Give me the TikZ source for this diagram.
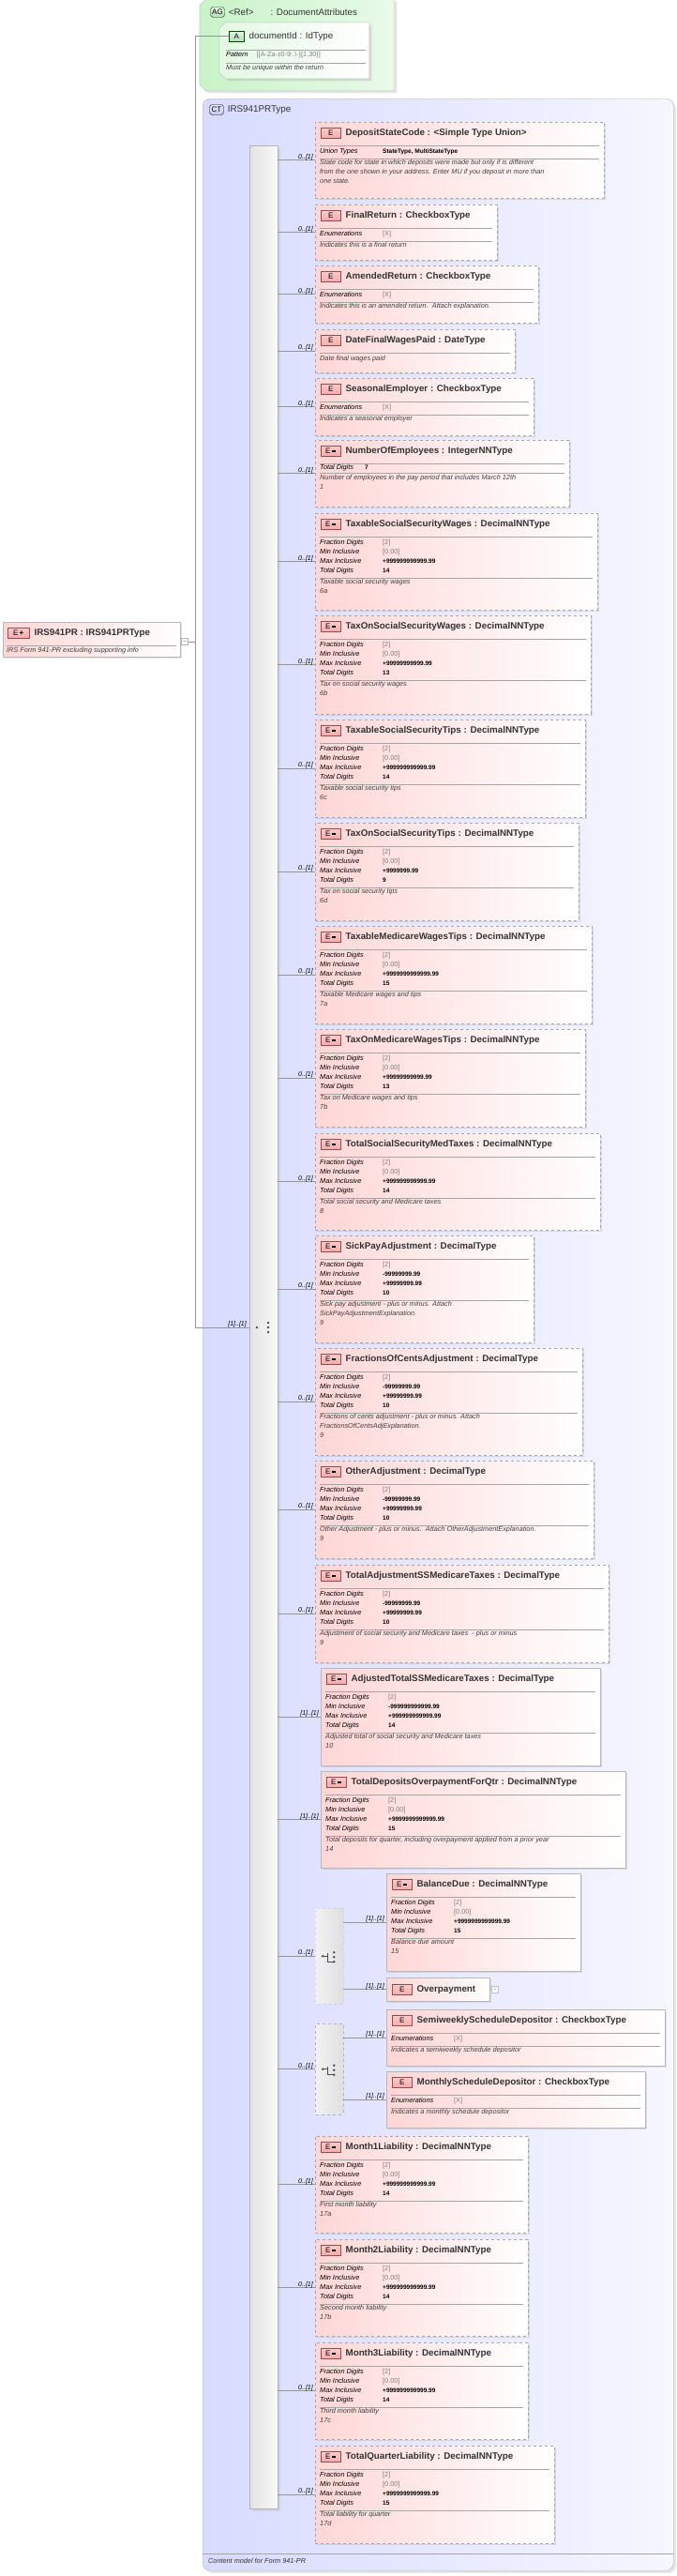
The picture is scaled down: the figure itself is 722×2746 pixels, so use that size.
\documentclass[tikz,border=0pt]{standalone}
\usepackage{fontspec}
\setmainfont{Liberation Sans}
\usepackage{array}
\usepackage{tikz}
\usetikzlibrary{shapes,shapes.misc,shadows,calc}

\definecolor{elpink}{RGB}{255,214,214}
\definecolor{ctblue}{RGB}{216,219,255}
\definecolor{ctwhite}{RGB}{246,246,255}
\definecolor{aggreen}{RGB}{200,243,200}
\definecolor{badgered}{RGB}{245,170,170}
\definecolor{lnk}{RGB}{150,150,150}

% facet values
\newcommand{\gv}[1]{{\color{gray}#1}}
\newcommand{\bv}[1]{{\bfseries\fontsize{6.5}{10}\selectfont #1}}
\newcommand{\curpar}{seqbar}

% element box: [style]{name}{x1}{y1}{x2}{y2}{badge}{title}{cardinality}
\newcommand{\elem}[9][opt]{%
  \node[#1, minimum width={#5pt-#3pt}, minimum height={#6pt-#4pt}, anchor=north west] (#2) at (#3pt,-#4pt) {};
  \node[badge, anchor=north west] (#2b) at ([xshift=6pt,yshift=-6pt]#2.north west) {#7};
  \node[title, anchor=west] (#2t) at ([xshift=5pt]#2b.east) {#8};
  \node[hdr, anchor=north west] (#2h) at ([xshift=5pt,yshift=-25pt]#2.north west) {};
  \draw[sep] (#2h.south west) -- ([xshift=-5pt]#2h.south -| #2.east);
  \draw[conn] (#2.west) -- (#2.west -| \curpar.east);
  \node[card, anchor=south east] (#2c) at ([xshift=-1pt,yshift=-1pt]#2.west) {#9};
}
\newcommand{\facets}[2]{%
  \node[facet, anchor=north west] (#1f) at ([yshift=-1pt]#1h.south west)
    {\begin{tabular}{@{}>{\itshape}p{67pt}@{}l@{}}#2\end{tabular}};
}
\newcommand{\docs}[4][sep]{%
  \draw[#1] ([yshift=-2pt]#3.south west) -- ([yshift=-2pt,xshift=-5pt]#3.south -| #2.east);
  \node[doc, anchor=north west] (#2d) at ([yshift=-3pt]#3.south west) {#4};
}
\newcommand{\seqicon}[1]{%
  \fill[black!70] ([xshift=-7pt]#1) circle (1.4pt);
  \draw[black!70, line width=0.6pt] ([xshift=-7pt]#1) -- ([xshift=-1pt]#1)
    ([xshift=-1pt,yshift=-5pt]#1) -- ([xshift=-1pt,yshift=5pt]#1)
    ([xshift=-1pt,yshift=-5pt]#1) -- ([xshift=5pt,yshift=-5pt]#1)
    ([xshift=-1pt,yshift=5pt]#1) -- ([xshift=5pt,yshift=5pt]#1);
  \foreach \d in {-5,0,5} \fill[black!70] ([xshift=5pt,yshift=\d pt]#1) circle (1.4pt);
}
\newcommand{\choiceicon}[1]{%
  \fill[black!70] ([xshift=-7pt]#1) circle (1.4pt);
  \draw[black!70, line width=0.6pt] ([xshift=-7pt]#1) -- ([xshift=-2pt]#1)
    ([xshift=-2pt,yshift=3pt]#1) -- ([xshift=-2pt,yshift=-6pt]#1) -- ([xshift=5pt,yshift=-6pt]#1);
  \foreach \d in {-6,-1,4} \fill[black!70] ([xshift=5pt,yshift=\d pt]#1) circle (1.4pt);
}

\begin{document}
\begin{tikzpicture}[x=1pt,y=1pt]
\tikzstyle{opt}=[rectangle, draw=gray!70, dashed, left color=elpink, right color=white, drop shadow={opacity=0.2,shadow xshift=1.5pt,shadow yshift=-1.5pt}]
\tikzstyle{req}=[opt, solid, draw=gray!55]
\tikzstyle{badge}=[rectangle, draw=red!40!black!70, top color=badgered!60, bottom color=badgered, inner sep=1pt, minimum height=11pt, minimum width=21pt, font=\fontsize{8}{9}\selectfont]
\tikzstyle{title}=[inner sep=0pt, font=\bfseries\fontsize{9.8}{11}\selectfont, text=black!80]
\tikzstyle{hdr}=[inner sep=0pt, minimum size=0pt]
\tikzstyle{sep}=[draw=gray!70, line width=0.5pt]
\tikzstyle{conn}=[draw=lnk, line width=0.5pt]
\tikzstyle{card}=[inner sep=1pt, font=\itshape\fontsize{7}{8}\selectfont]
\tikzstyle{facet}=[inner sep=0pt, font=\fontsize{7.3}{10}\selectfont]
\tikzstyle{doc}=[inner sep=0pt, align=left, font=\itshape\fontsize{7.3}{10}\selectfont, text=black!75]
\tikzstyle{group}=[rectangle, draw=gray!60, dashed, rounded corners=1pt, left color=gray!10, right color=gray!25]
\useasboundingbox (0,0) rectangle (722,-2746);

% attribute group
\node[chamfered rectangle, chamfered rectangle corners={north west,south west}, chamfered rectangle xsep=6pt, draw=gray!50, left color=aggreen, right color=aggreen!40, minimum width=208pt, minimum height=98pt, anchor=north west, drop shadow={opacity=0.2}] (ag) at (216,-2) {};
\node[badge, rounded corners=3pt, draw=green!30!black, top color=aggreen!50, bottom color=aggreen!90!black, minimum width=15pt] (agb) at (232,-13) {AG};
\node[title, font=\fontsize{9.8}{11}\selectfont, anchor=west] (agt) at ([xshift=4pt]agb.east) {<Ref>\hspace{18pt}: DocumentAttributes};
\node[chamfered rectangle, chamfered rectangle corners={north west,south west}, chamfered rectangle xsep=4pt, draw=gray!50, left color=aggreen!50, right color=white, minimum width=160pt, minimum height=60pt, anchor=north west, drop shadow={opacity=0.2}] (did) at (237,-27) {};
\node[badge, draw=green!30!black, top color=aggreen!50, bottom color=aggreen!90!black, minimum width=16pt, anchor=north west] (didb) at (244,-33) {A};
\node[title, font=\fontsize{9.8}{11}\selectfont, anchor=west] (didt) at ([xshift=5pt]didb.east) {documentId : IdType};
\draw[sep] (241,-53) -- (390,-53);
\node[facet, anchor=north west] (didf) at (241,-55) {\textit{Pattern}\hspace{9pt}\gv{[[A-Za-z0-9:.\textbackslash-]\{1,30\}]}};
\draw[sep] (241,-67) -- (390,-67);
\node[doc, anchor=north west] (didd) at (241,-69) {Must be unique within the return};

% complex type
\node[rectangle, rounded corners=8pt, draw=gray!60, left color=ctblue, right color=ctwhite, minimum width=502pt, minimum height=2635pt, anchor=north west, drop shadow={opacity=0.2}] (ct) at (216,-105) {};
\node[badge, rounded corners=3pt, draw=blue!30!black, top color=ctblue!60, bottom color=ctblue!90!black, minimum width=15pt] (ctb) at (231,-117) {CT};
\node[title, font=\fontsize{9.8}{11}\selectfont, anchor=west] (ctt) at ([xshift=4pt]ctb.east) {IRS941PRType};
\draw[sep] (216,-2722) -- (718,-2722);
\node[doc, anchor=west, text=black!80] (ctd) at (222,-2730) {Content model for Form 941-PR};

% root element
\node[req, minimum width=189pt, minimum height=37pt, anchor=north west] (root) at (3,-663) {};
\node[badge, anchor=north west, minimum width=23pt] (rootb) at (8,-669) {E\,\textbf{+}};
\node[title, anchor=west] (roott) at ([xshift=5pt]rootb.east) {IRS941PR : IRS941PRType};
\draw[sep] (7,-688) -- (188,-688);
\node[doc, anchor=north west] (rootd) at (7,-690) {IRS Form 941-PR excluding supporting info};
\node[draw=gray!60, fill=white, minimum size=7pt, inner sep=0pt, font=\tiny] (rootx) at (197,-684) {$-$};
\coordinate (spine) at (208,-684);
\node[inner sep=0pt, minimum size=0pt] (seqic) at (281,-1415) {};
\draw[conn] (rootx) -- (spine) |- (didb.west);
\draw[conn] (spine) |- (seqic);
\node[card, anchor=south east] (seqc) at (264,-1416) {[1]..[1]};

% sequence
\node[rectangle, draw=gray!60, left color=gray!22, right color=gray!4, minimum width=30pt, minimum height=2519pt, anchor=north west, drop shadow={opacity=0.15}] (seqbar) at (266,-155) {};
\seqicon{seqic}

\elem{dsc}{336}{130}{644}{211}{E}{DepositStateCode : <Simple Type Union>}{0..[1]}
\facets{dsc}{Union Types & \bv{StateType, MultiStateType}}
\docs{dsc}{dscf}{State code for state in which deposits were made but only if is different\\from the one shown in your address. Enter MU if you deposit in more than\\one state.}
\elem{fr}{336}{218}{530}{277}{E}{FinalReturn : CheckboxType}{0..[1]}
\facets{fr}{Enumerations & \gv{[X]}}
\docs{fr}{frf}{Indicates this is a final return}
\elem{ar}{336}{283}{574}{344}{E}{AmendedReturn : CheckboxType}{0..[1]}
\facets{ar}{Enumerations & \gv{[X]}}
\docs{ar}{arf}{Indicates this is an amended return.\ \ Attach explanation.}
\elem{dfw}{336}{351}{549}{397}{E}{DateFinalWagesPaid : DateType}{0..[1]}
\docs[draw=none]{dfw}{dfwh}{Date final wages paid}
\elem{se}{336}{403}{569}{464}{E}{SeasonalEmployer : CheckboxType}{0..[1]}
\facets{se}{Enumerations & \gv{[X]}}
\docs{se}{sef}{Indicates a seasonal employer}
\elem{noe}{336}{469}{607}{540}{E\,\rule[1.5pt]{4.5pt}{1.8pt}}{NumberOfEmployees : IntegerNNType}{0..[1]}
\node[facet, anchor=north west] (noef) at ([yshift=-1pt]noeh.south west) {\textit{Total Digits}\hspace{12pt}\bv{7}};
\docs{noe}{noef}{Number of employees in the pay period that includes March 12th\\1}

\elem{tssw}{336}{547}{637}{650}{E\,\rule[1.5pt]{4.5pt}{1.8pt}}{TaxableSocialSecurityWages : DecimalNNType}{0..[1]}
\facets{tssw}{Fraction Digits & \gv{[2]}\\ Min Inclusive & \gv{[0.00]}\\ Max Inclusive & \bv{+999999999999.99}\\ Total Digits & \bv{14}}
\docs{tssw}{tsswf}{Taxable social security wages\\6a}
\elem{tossw}{336}{656}{630}{761}{E\,\rule[1.5pt]{4.5pt}{1.8pt}}{TaxOnSocialSecurityWages : DecimalNNType}{0..[1]}
\facets{tossw}{Fraction Digits & \gv{[2]}\\ Min Inclusive & \gv{[0.00]}\\ Max Inclusive & \bv{+99999999999.99}\\ Total Digits & \bv{13}}
\docs{tossw}{tosswf}{Tax on social security wages\\6b}
\elem{tsst}{336}{767}{624}{871}{E\,\rule[1.5pt]{4.5pt}{1.8pt}}{TaxableSocialSecurityTips : DecimalNNType}{0..[1]}
\facets{tsst}{Fraction Digits & \gv{[2]}\\ Min Inclusive & \gv{[0.00]}\\ Max Inclusive & \bv{+999999999999.99}\\ Total Digits & \bv{14}}
\docs{tsst}{tsstf}{Taxable social security tips\\6c}
\elem{tosst}{336}{877}{617}{981}{E\,\rule[1.5pt]{4.5pt}{1.8pt}}{TaxOnSocialSecurityTips : DecimalNNType}{0..[1]}
\facets{tosst}{Fraction Digits & \gv{[2]}\\ Min Inclusive & \gv{[0.00]}\\ Max Inclusive & \bv{+9999999.99}\\ Total Digits & \bv{9}}
\docs{tosst}{tosstf}{Tax on social security tips\\6d}
\elem{tmwt}{336}{987}{631}{1091}{E\,\rule[1.5pt]{4.5pt}{1.8pt}}{TaxableMedicareWagesTips : DecimalNNType}{0..[1]}
\facets{tmwt}{Fraction Digits & \gv{[2]}\\ Min Inclusive & \gv{[0.00]}\\ Max Inclusive & \bv{+9999999999999.99}\\ Total Digits & \bv{15}}
\docs{tmwt}{tmwtf}{Taxable Medicare wages and tips\\7a}
\elem{tomwt}{336}{1097}{624}{1201}{E\,\rule[1.5pt]{4.5pt}{1.8pt}}{TaxOnMedicareWagesTips : DecimalNNType}{0..[1]}
\facets{tomwt}{Fraction Digits & \gv{[2]}\\ Min Inclusive & \gv{[0.00]}\\ Max Inclusive & \bv{+99999999999.99}\\ Total Digits & \bv{13}}
\docs{tomwt}{tomwtf}{Tax on Medicare wages and tips\\7b}
\elem{tssmt}{336}{1208}{640}{1311}{E\,\rule[1.5pt]{4.5pt}{1.8pt}}{TotalSocialSecurityMedTaxes : DecimalNNType}{0..[1]}
\facets{tssmt}{Fraction Digits & \gv{[2]}\\ Min Inclusive & \gv{[0.00]}\\ Max Inclusive & \bv{+999999999999.99}\\ Total Digits & \bv{14}}
\docs{tssmt}{tssmtf}{Total social security and Medicare taxes\\8}
\elem{spa}{336}{1317}{569}{1431}{E\,\rule[1.5pt]{4.5pt}{1.8pt}}{SickPayAdjustment : DecimalType}{0..[1]}
\facets{spa}{Fraction Digits & \gv{[2]}\\ Min Inclusive & \bv{-99999999.99}\\ Max Inclusive & \bv{+99999999.99}\\ Total Digits & \bv{10}}
\docs{spa}{spaf}{Sick pay adjustment - plus or minus. Attach\\SickPayAdjustmentExplanation.\\9}
\elem{foca}{336}{1437}{621}{1551}{E\,\rule[1.5pt]{4.5pt}{1.8pt}}{FractionsOfCentsAdjustment : DecimalType}{0..[1]}
\facets{foca}{Fraction Digits & \gv{[2]}\\ Min Inclusive & \bv{-99999999.99}\\ Max Inclusive & \bv{+99999999.99}\\ Total Digits & \bv{10}}
\docs{foca}{focaf}{Fractions of cents adjustment - plus or minus. Attach\\FractionsOfCentsAdjExplanation.\\9}
\elem{oa}{336}{1557}{633}{1661}{E\,\rule[1.5pt]{4.5pt}{1.8pt}}{OtherAdjustment : DecimalType}{0..[1]}
\facets{oa}{Fraction Digits & \gv{[2]}\\ Min Inclusive & \bv{-99999999.99}\\ Max Inclusive & \bv{+99999999.99}\\ Total Digits & \bv{10}}
\docs{oa}{oaf}{Other Adjustment - plus or minus.\ \ Attach OtherAdjustmentExplanation.\\9}
\elem{tass}{336}{1668}{649}{1772}{E\,\rule[1.5pt]{4.5pt}{1.8pt}}{TotalAdjustmentSSMedicareTaxes : DecimalType}{0..[1]}
\facets{tass}{Fraction Digits & \gv{[2]}\\ Min Inclusive & \bv{-99999999.99}\\ Max Inclusive & \bv{+99999999.99}\\ Total Digits & \bv{10}}
\docs{tass}{tassf}{Adjustment of social security and Medicare taxes\ \ - plus or minus\\9}
\elem[req]{ats}{342}{1778}{640}{1882}{E\,\rule[1.5pt]{4.5pt}{1.8pt}}{AdjustedTotalSSMedicareTaxes : DecimalType}{[1]..[1]}
\facets{ats}{Fraction Digits & \gv{[2]}\\ Min Inclusive & \bv{-999999999999.99}\\ Max Inclusive & \bv{+999999999999.99}\\ Total Digits & \bv{14}}
\docs{ats}{atsf}{Adjusted total of social security and Medicare taxes\\10}
\elem[req]{tdo}{342}{1888}{667}{1991}{E\,\rule[1.5pt]{4.5pt}{1.8pt}}{TotalDepositsOverpaymentForQtr : DecimalNNType}{[1]..[1]}
\facets{tdo}{Fraction Digits & \gv{[2]}\\ Min Inclusive & \gv{[0.00]}\\ Max Inclusive & \bv{+9999999999999.99}\\ Total Digits & \bv{15}}
\docs{tdo}{tdof}{Total deposits for quarter, including overpayment applied from a prior year\\14}

% first choice
\node[group, minimum width=30pt, minimum height=102pt, anchor=north west] (ch1) at (336,-2034) {};
\draw[conn] (ch1.west) -- (ch1.west -| seqbar.east);
\node[card, anchor=south east] (ch1c) at ([xshift=-1pt,yshift=-1pt]ch1.west) {0..[1]};
\choiceicon{ch1.center}
\renewcommand{\curpar}{ch1}
\elem[req]{bd}{412}{1997}{619}{2101}{E\,\rule[1.5pt]{4.5pt}{1.8pt}}{BalanceDue : DecimalNNType}{[1]..[1]}
\facets{bd}{Fraction Digits & \gv{[2]}\\ Min Inclusive & \gv{[0.00]}\\ Max Inclusive & \bv{+9999999999999.99}\\ Total Digits & \bv{15}}
\docs{bd}{bdf}{Balance due amount\\15}
\node[req, minimum width=110pt, minimum height=25pt, anchor=north west] (op) at (412,-2108) {};
\node[badge, anchor=west] (opb) at ([xshift=6pt]op.west) {E};
\node[title, anchor=west] (opt) at ([xshift=5pt]opb.east) {Overpayment};
\node[draw=gray!50, fill=white, minimum size=7pt, inner sep=0pt, font=\tiny, text=gray] (opx) at (528,-2121) {+};
\draw[conn] (op.west) -- (op.west -| ch1.east);
\node[card, anchor=south east] (opc) at ([xshift=-1pt,yshift=-1pt]op.west) {[1]..[1]};

% second choice
\renewcommand{\curpar}{seqbar}
\node[group, minimum width=30pt, minimum height=97pt, anchor=north west] (ch2) at (336,-2157) {};
\draw[conn] (ch2.west) -- (ch2.west -| seqbar.east);
\node[card, anchor=south east] (ch2c) at ([xshift=-1pt,yshift=-1pt]ch2.west) {0..[1]};
\choiceicon{ch2.center}
\renewcommand{\curpar}{ch2}
\elem[req]{sw}{412}{2142}{709}{2202}{E}{SemiweeklyScheduleDepositor : CheckboxType}{[1]..[1]}
\facets{sw}{Enumerations & \gv{[X]}}
\docs{sw}{swf}{Indicates a semiweekly schedule depositor}
\elem[req]{msd}{412}{2208}{688}{2268}{E}{MonthlyScheduleDepositor : CheckboxType}{[1]..[1]}
\facets{msd}{Enumerations & \gv{[X]}}
\docs{msd}{msdf}{Indicates a monthly schedule depositor}
\renewcommand{\curpar}{seqbar}

\elem{mo1}{336}{2277}{563}{2380}{E\,\rule[1.5pt]{4.5pt}{1.8pt}}{Month1Liability : DecimalNNType}{0..[1]}
\facets{mo1}{Fraction Digits & \gv{[2]}\\ Min Inclusive & \gv{[0.00]}\\ Max Inclusive & \bv{+999999999999.99}\\ Total Digits & \bv{14}}
\docs{mo1}{mo1f}{First month liability\\17a}
\elem{mo2}{336}{2387}{563}{2490}{E\,\rule[1.5pt]{4.5pt}{1.8pt}}{Month2Liability : DecimalNNType}{0..[1]}
\facets{mo2}{Fraction Digits & \gv{[2]}\\ Min Inclusive & \gv{[0.00]}\\ Max Inclusive & \bv{+999999999999.99}\\ Total Digits & \bv{14}}
\docs{mo2}{mo2f}{Second month liability\\17b}
\elem{mo3}{336}{2497}{563}{2600}{E\,\rule[1.5pt]{4.5pt}{1.8pt}}{Month3Liability : DecimalNNType}{0..[1]}
\facets{mo3}{Fraction Digits & \gv{[2]}\\ Min Inclusive & \gv{[0.00]}\\ Max Inclusive & \bv{+999999999999.99}\\ Total Digits & \bv{14}}
\docs{mo3}{mo3f}{Third month liability\\17c}
\elem{tql}{336}{2607}{591}{2711}{E\,\rule[1.5pt]{4.5pt}{1.8pt}}{TotalQuarterLiability : DecimalNNType}{0..[1]}
\facets{tql}{Fraction Digits & \gv{[2]}\\ Min Inclusive & \gv{[0.00]}\\ Max Inclusive & \bv{+9999999999999.99}\\ Total Digits & \bv{15}}
\docs{tql}{tqlf}{Total liability for quarter\\17d}
\end{tikzpicture}
\end{document}
